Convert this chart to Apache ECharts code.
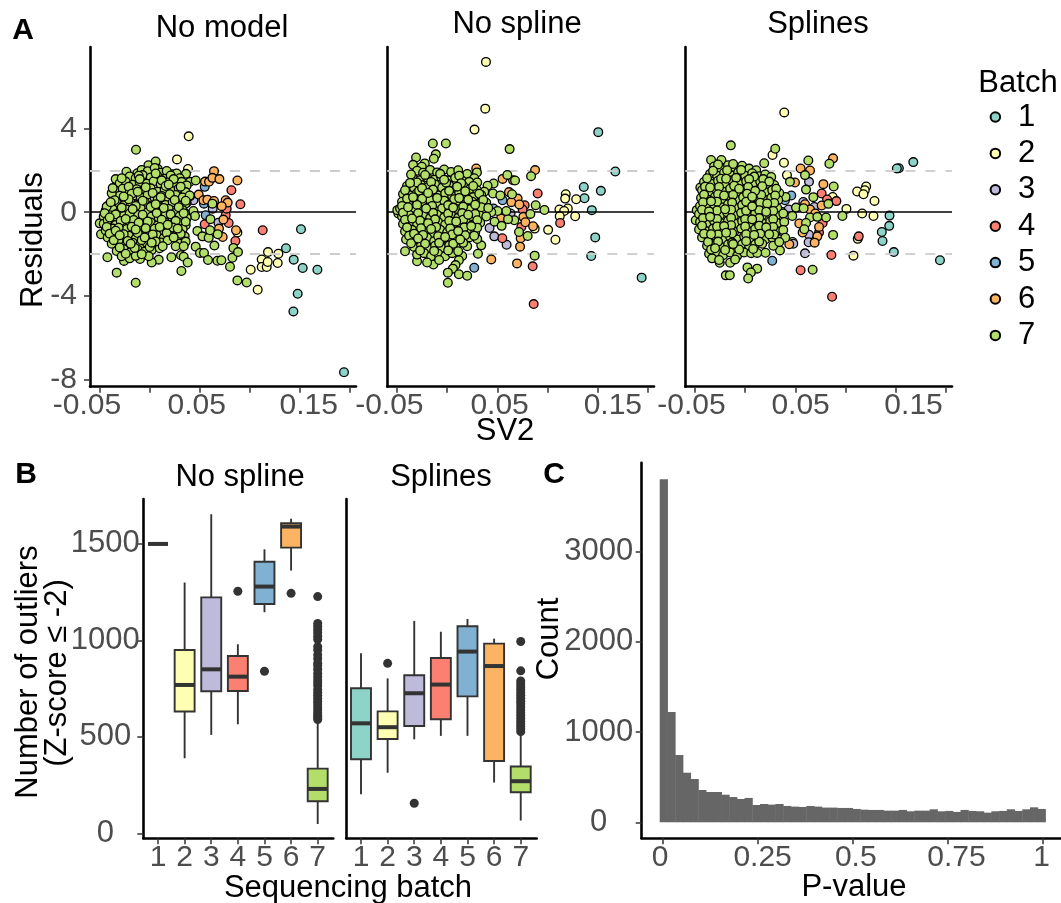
<!DOCTYPE html>
<html>
<head>
<meta charset="utf-8">
<style>html,body{margin:0;padding:0;background:#fff}#main{width:1061px;height:903px}</style>
<script src="https://cdn.jsdelivr.net/npm/echarts@6/dist/echarts.min.js"></script>
</head>
<body>
<div id="main"></div>
<script>
var batchNames = ['1', '2', '3', '4', '5', '6', '7'];
var batchColors = ['#8DD3C7', '#FFFFB3', '#BEBADA', '#FB8072', '#80B1D3', '#FDB462', '#B3DE69'];

// panel A, no model: [SV2, residual]
var noModelB1 = [[.1943,-7.63],[.1437,-4.73],[.148,-3.89],[.153,-2.66],[.1677,-2.74],[.144,-2.26],[.1363,-1.72],[.1513,-.81]];
var noModelB2 = [[.039,3.62],[.0273,2.52],[.0383,2.06],[.101,-2.74],[.108,-3.7],[.112,-2.25],[.112,-2.61],[.117,-2.61],[.1183,-1.9],[.118,-2.37],[.1287,-1.98],[.128,-2.42],[.0877,-.97]];
var noModelB3 = [[.0437,.57],[.063,.17],[.0687,-.5],[.0627,.5]];
var noModelB4 = [[.113,-.86],[.0907,.38],[.0817,1.05],[.0857,-1.37],[.055,-.57],[.079,-.51],[.076,-.14],[.077,.17]];
var noModelB5 = [[.023,1.81],[.055,1.21],[.0543,.41],[.0357,-.06],[.056,-.14],[.0357,.73],[.027,-.41]];
var noModelB6 = [[.0643,1.96],[.0553,1.46],[.0593,1.45],[.0627,1.64],[.0697,1.58],[.0877,1.51],[.0403,.76],[.049,.84],[.0537,.57],[.0577,.6],[.0643,.54],[.076,.57],[.078,.46],[.072,.29],[.0737,-.35],[.0693,-.78],[.073,-1.18],[.0863,-.86]];
var noModelB7 = [[-.0137,2.98],[-.034,1.58],[-.0233,1.93],[-.0123,1.86],[-.0013,2.24],[.006,2.42],[.008,2.07],[.027,1.85],[.0363,1.83],[.0403,1.45],[.046,1.51],[.0627,.41],[.037,.45],[.0437,.06],[.0453,-.18],[.0477,-.89],[.0527,-1.15],[.059,-1.22],[.0607,-.33],[.0603,-.86],[.068,-1.05],[.0647,-1.59],[.046,-1.64],[.0503,-1.94],[.0543,-1.94],[.0583,-2.28],[.0677,-2.31],[.0717,-2.29],[.0827,-2.17],[.0837,-1.7],[.0883,-1.9],[.0803,-2.6],[.0877,-3.25],[.097,-3.35],[.0217,-2.15],[.0313,-2.05],[.034,-2.12],[.038,-2.4],[.0317,-2.8],[.009,-2.26],[.002,-2.4],[-.0097,-2.23],[-.014,-3.36],[-.033,-2.88],[-.0423,-2.15],[-.0257,-2.32],[-.05,-.53],[-.0487,-1.05],
[-.008,2.02],[-.002,1.96],[.005,2.11],[.011,1.88],[.017,1.97],
[-.02,1.71],[-.014,1.62],[-.007,1.77],[.001,1.66],[.008,1.72],[.015,1.6],[.021,1.75],[.03,1.62],
[-.03,1.38],[-.024,1.46],[-.017,1.31],[-.01,1.44],[-.003,1.36],[.004,1.48],[.011,1.33],[.018,1.42],[.025,1.3],[.032,1.45],[.037,1.28],
[-.033,1.02],[-.027,1.12],[-.02,.97],[-.013,1.1],[-.006,1.0],[.001,1.14],[.008,.98],[.015,1.09],[.022,1.01],[.029,1.13],[.036,.96],
[-.036,.7],[-.03,.79],[-.023,.66],[-.016,.8],[-.009,.71],[-.002,.84],[.005,.68],[.012,.78],[.019,.64],[.026,.82],[.033,.7],[.04,.8],
[-.04,.38],[-.033,.47],[-.026,.33],[-.019,.45],[-.012,.36],[-.005,.5],[.002,.32],[.009,.44],[.016,.35],[.023,.48],[.03,.31],[.036,.42],
[-.044,.08],[-.037,.15],[-.03,.02],[-.023,.13],[-.016,.05],[-.009,.18],[-.002,.0],[.005,.12],[.012,.03],[.019,.16],[.026,-.02],[.033,.1],
[-.046,-.2],[-.04,-.14],[-.033,-.3],[-.026,-.18],[-.019,-.29],[-.012,-.13],[-.005,-.32],[.002,-.2],[.009,-.28],[.016,-.14],[.023,-.31],[.03,-.19],[.037,-.27],
[-.046,-.55],[-.04,-.47],[-.034,-.61],[-.027,-.5],[-.02,-.62],[-.013,-.46],[-.006,-.6],[.001,-.49],[.008,-.63],[.015,-.47],[.022,-.58],[.029,-.5],[.036,-.62],
[-.044,-.87],[-.037,-.78],[-.03,-.92],[-.023,-.8],[-.016,-.95],[-.009,-.82],[-.002,-.9],[.005,-.79],[.012,-.94],[.019,-.84],[.026,-.96],[.033,-.8],
[-.042,-1.2],[-.035,-1.1],[-.028,-1.25],[-.021,-1.12],[-.014,-1.26],[-.007,-1.14],[0,-1.27],[.007,-1.1],[.014,-1.24],[.021,-1.13],[.028,-1.28],[.035,-1.15],
[-.038,-1.5],[-.031,-1.42],[-.024,-1.58],[-.017,-1.45],[-.01,-1.59],[-.003,-1.46],[.004,-1.56],[.011,-1.44],[.03,-1.5],[.036,-1.4],
[-.033,-1.85],[-.026,-1.76],[-.019,-1.9],[-.012,-1.78],[-.005,-1.88],[.002,-1.8],[.01,-1.72],
[-.028,-2.1],[-.02,-2.2],[-.014,-2.08],[-.001,-2.1]];
var noModelB7More = [[-.028,1.62],[-.011,1.74],[.012,1.52],[.024,1.58],[-.021,1.22],[-.004,1.19],[.016,1.25],[.031,1.22],[-.038,.91],[-.018,.88],[.003,.92],[.02,.86],[-.035,.57],[-.021,.62],[-.007,.55],[.008,.6],[.025,.58],[-.043,.27],[-.028,.22],[-.014,.3],[.001,.25],[.014,.2],[.029,.24],[-.045,-.05],[-.034,-.1],[-.02,-.06],[-.007,-.12],[.007,-.04],[.021,-.1],[-.042,-.38],[-.029,-.42],[-.016,-.37],[-.002,-.44],[.012,-.36],[.026,-.41],[-.043,-.7],[-.031,-.74],[-.018,-.69],[-.004,-.76],[.01,-.7],[.023,-.73],[-.04,-1.02],[-.026,-1.05],[-.012,-.99],[.003,-1.06],[.017,-1.0],[.031,-1.03],[-.036,-1.33],[-.022,-1.37],[-.008,-1.33],[.006,-1.39],[.018,-1.34],[-.03,-1.68],[-.015,-1.7],[0,-1.66],[.013,-1.62],[-.024,-1.98],[-.008,-2.0],[.026,-1.62],[.034,-1.62],
[-.037,1.15],[-.01,1.58],[.006,1.85],[.019,1.32],[-.026,.75],[-.012,.98],[.011,.72],[.036,.55],[-.039,.48],[-.017,.15],[.006,.38],[.034,-.05],[-.04,-.25],[-.024,-.32],[-.011,-.5],[.018,-.6],[.036,-.45],[-.034,-.88],[-.014,-.82],[.028,-.78],[-.03,-1.1],[-.005,-1.2],[.024,-1.2],[-.019,-1.5],[.002,-1.45]];

// panel A, no spline
var noSplineB1 = [[.1507,3.82],[.1677,1.94],[.1363,1.2],[.1533,1.02],[.137,.67],[.1443,.1],[.1477,-1.2],[.1437,-2.09],[.194,-3.12]];
var noSplineB2 = [[.0387,7.17],[.038,4.94],[.0273,3.94],[.1183,.86],[.1177,.65],[.1287,.62],[.1203,.18],[.112,.13],[.1167,.06],[.1123,-.19],[.1277,-.19],[.1007,-.84],[.108,-1.31],[.0873,-.78]];
var noSplineB3 = [[.047,-1.15],[.0593,-1.55],[.0423,-.75],[.0633,-.06]];
var noSplineB4 = [[.0903,.89],[.0773,.33],[.0753,.13],[.1127,-.51],[.055,-1.24],[.0853,-2.58],[.0863,-4.38],[.074,-.7]];
var noSplineB5 = [[.027,-2.65],[.0553,.57],[.0463,.18]];
var noSplineB6 = [[.029,2.09],[.0877,2.01],[.0553,1.59],[.0657,1.53],[.0617,.96],[.0703,.65],[.064,.48],[.072,.37],[.0537,-.3],[.076,-.22],[.078,-.48],[.0857,-.67],[.0733,-1.24],[.0727,-1.64],[.044,-2.25],[.0697,-2.44]];
var noSplineB7 = [[-.0143,3.28],[-.0013,3.28],[-.0113,2.76],[-.0133,2.55],[-.031,2.61],[-.0223,2.33],[-.034,2.26],[-.0253,2.17],[.0623,3.01],[.06,1.78],[.0677,1.51],[.0837,1.72],[.0297,1.9],[.0463,1.37],[.0403,1.26],[.0457,.89],[.053,.8],[.0647,.86],[.0883,.33],[.097,.11],[.083,-.08],[.067,-.38],[.0607,-.33],[.059,.06],[.0503,.06],[.0473,-.45],[.0543,-.65],[.0717,-.94],[.0803,-1.13],[.0873,-2.07],[-.042,-1.86],[.015,-2.09],[.0117,-2.29],[.0083,-2.52],[.0057,-2.69],[.0007,-2.88],[.0117,-2.96],[.02,-3.03],[.0007,-3.36],[-.0137,-2.49],[-.03,-2.34],[.0307,-1.98],[.034,-1.58],[-.0487,-.06],[-.0497,.1],
[-.03,1.98],[-.024,1.88],[-.017,2.02],[-.01,1.9],[-.003,2.04],[.004,1.92],[.011,2.0],[.02,1.82],[.027,1.62],
[-.034,1.62],[-.027,1.53],[-.02,1.66],[-.013,1.55],[-.006,1.68],[.001,1.52],[.008,1.64],[.015,1.5],[.022,1.45],[.03,1.42],
[-.04,1.25],[-.033,1.16],[-.026,1.3],[-.019,1.2],[-.012,1.32],[-.005,1.17],[.002,1.28],[.009,1.14],[.016,1.25],[.023,1.12],[.03,1.05],[.037,.98],
[-.044,.87],[-.037,.8],[-.03,.92],[-.023,.82],[-.016,.96],[-.009,.8],[-.002,.9],[.005,.78],[.012,.93],[.019,.8],[.026,.72],[.034,.82],
[-.045,.5],[-.038,.42],[-.031,.56],[-.024,.45],[-.017,.58],[-.01,.43],[-.003,.55],[.004,.41],[.011,.52],[.018,.4],[.025,.5],[.032,.4],[.039,.45],
[-.047,.18],[-.04,.08],[-.033,.2],[-.026,.1],[-.019,.22],[-.012,.07],[-.005,.18],[.002,.05],[.009,.16],[.016,.04],[.023,.15],[.03,.03],[.037,.08],[.044,.0],
[-.045,-.2],[-.038,-.12],[-.031,-.26],[-.024,-.14],[-.017,-.28],[-.01,-.12],[-.003,-.25],[.004,-.14],[.011,-.27],[.018,-.15],[.025,-.24],[.032,-.12],[.039,-.2],
[-.044,-.56],[-.037,-.48],[-.03,-.62],[-.023,-.5],[-.016,-.64],[-.009,-.47],[-.002,-.6],[.005,-.5],[.012,-.63],[.019,-.48],[.026,-.58],[.033,-.5],
[-.042,-.92],[-.035,-.84],[-.028,-.98],[-.021,-.86],[-.014,-1.0],[-.007,-.83],[0,-.96],[.007,-.85],[.014,-.98],[.021,-.88],[.028,-.95],
[-.041,-1.3],[-.034,-1.2],[-.027,-1.36],[-.02,-1.22],[-.013,-1.38],[-.006,-1.2],[.001,-1.34],[.008,-1.22],[.015,-1.32],[.022,-1.2],[.03,-1.28],
[-.033,-1.66],[-.026,-1.58],[-.019,-1.72],[-.012,-1.6],[-.005,-1.7],[.002,-1.58],[.009,-1.68],[.02,-1.62],
[-.03,-2.02],[-.023,-1.95],[-.016,-2.1],[-.009,-1.98],[-.002,-2.1],[.005,-1.95],
[-.02,-2.4],[-.008,-2.28]];
var noSplineB7More = [[-.036,1.8],[-.022,1.78],[-.007,1.83],[.012,1.74],[-.03,1.42],[-.016,1.44],[-.001,1.41],[.014,1.38],[.026,1.25],[-.042,1.05],[-.028,1.02],[-.014,1.08],[.002,1.02],[.018,1.0],[.032,.88],[-.04,.65],[-.025,.64],[-.01,.68],[.007,.62],[.021,.6],[.036,.58],[-.045,.3],[-.03,.35],[-.015,.3],[.001,.34],[.016,.27],[.034,.24],[-.044,-.02],[-.029,-.05],[-.014,-.03],[.001,-.07],[.015,-.04],[.028,-.08],[.041,.2],[-.042,-.36],[-.027,-.4],[-.012,-.34],[.002,-.41],[.016,-.36],[.03,-.38],[-.04,-.72],[-.026,-.76],[-.011,-.7],[.003,-.77],[.017,-.72],[.03,-.74],[-.038,-1.12],[-.024,-1.08],[-.009,-1.14],[.005,-1.06],[.018,-1.1],[.027,-1.12],[-.036,-1.48],[-.022,-1.5],[-.008,-1.46],[.006,-1.5],[.016,-1.46],[-.027,-1.82],[-.013,-1.85],[.001,-1.82],[.011,-1.86],
[-.037,1.4],[-.025,1.15],[-.003,1.55],[.01,1.22],[-.034,.72],[-.019,.92],[.012,.68],[.028,.36],[-.039,.24],[-.021,.18],[.006,.22],[.021,-.12],[-.035,-.3],[-.019,-.52],[.009,-.44],[.024,-.66],[-.033,-1.02],[-.016,-.8],[.011,-.9],[-.029,-1.25],[-.002,-1.18],[.013,-1.3]];

// panel A, splines
var splinesAB1 = [[.1677,2.39],[.1533,2.1],[.1513,2.09],[.144,-.16],[.1437,-.65],[.1363,-.94],[.137,-1.37],[.1483,-1.9],[.1943,-2.29]];
var splinesAB2 = [[.039,4.76],[.0273,2.73],[.0387,2.36],[.0417,1.77],[.1207,1.23],[.1193,1.05],[.1117,.99],[.118,.86],[.129,.54],[.101,.16],[.1167,-.06],[.128,-.18],[.108,-2.07],[.1123,-1.27],[.0873,.73],[.0473,-1.42]];
var splinesAB3 = [[.0637,1.45],[.069,.25],[.058,.49],[.0433,.13],[.0637,-1.07],[.0633,-1.43],[.0597,-1.96],[.048,-1.5]];
var splinesAB4 = [[.0763,.89],[.0817,.61],[.091,.53],[.0773,-.51],[.0737,-.97],[.1133,-1.15],[.086,-2.04],[.0553,-2.77],[.0867,-4.03]];
var splinesAB5 = [[.046,.8],[.0397,.57],[.027,-2.31]];
var splinesAB6 = [[.0877,2.57],[.0553,2.09],[.0647,1.99],[.0497,1.42],[.078,1.34],[.0597,.38],[.0647,.13],[.0763,.32],[.07,-.06],[.054,-.54],[.0737,-.7],[.0573,-.97],[.072,-1.15],[.0693,-1.45],[.044,-1.53]];
var splinesAB7 = [[-.0143,3.19],[.03,3.03],[-.034,2.49],[-.0237,2.49],[.019,2.34],[.063,2.47],[.084,2.31],[.0597,1.77],[.0447,1.45],[.0883,1.23],[.0607,1.08],[.068,.72],[.0403,.73],[.083,.4],[.0507,.22],[.0583,.19],[.047,-.18],[.0647,-.25],[.072,-.22],[.0807,-.25],[.097,-.18],[.0607,-.51],[.059,-.81],[.0877,-1.08],[.0363,.02],[-.0483,.1],[-.0493,-.38],[-.0447,1.18],[.0023,-2.63],[.012,-2.69],[.0057,-2.87],[.003,-3.16],[-.0193,-3.01],[-.0153,-3],[-.015,-2.41],[-.0253,-2.41],[.0673,-2.74],[.0203,-1.93],[.0347,-1.82],
[-.031,2.18],[-.024,2.1],[-.017,2.24],[-.01,2.12],[-.003,2.22],[.004,2.08],[.011,2.0],
[-.035,1.82],[-.028,1.74],[-.021,1.88],[-.014,1.76],[-.007,1.9],[0,1.74],[.007,1.86],[.014,1.72],[.02,1.8],[.026,1.68],
[-.041,1.44],[-.034,1.36],[-.027,1.5],[-.02,1.38],[-.013,1.52],[-.006,1.36],[.001,1.48],[.008,1.34],[.015,1.46],[.022,1.36],[.029,1.3],
[-.043,1.05],[-.036,.96],[-.029,1.1],[-.022,.98],[-.015,1.12],[-.008,.96],[-.001,1.08],[.006,.94],[.013,1.06],[.02,.95],[.027,1.05],[.034,.92],
[-.044,.68],[-.037,.6],[-.03,.74],[-.023,.62],[-.016,.76],[-.009,.6],[-.002,.72],[.005,.58],[.012,.7],[.019,.6],[.026,.68],[.033,.58],
[-.045,.3],[-.038,.22],[-.031,.36],[-.024,.24],[-.017,.38],[-.01,.22],[-.003,.34],[.004,.2],[.011,.32],[.018,.22],[.025,.3],[.032,.2],
[-.046,-.08],[-.039,-.14],[-.032,-.02],[-.025,-.12],[-.018,.0],[-.011,-.15],[-.004,-.03],[.003,-.16],[.01,-.05],[.017,-.14],[.024,-.04],[.031,-.15],[.038,-.06],
[-.045,-.46],[-.038,-.54],[-.031,-.42],[-.024,-.52],[-.017,-.4],[-.01,-.55],[-.003,-.43],[.004,-.53],[.011,-.42],[.018,-.55],[.025,-.44],[.032,-.52],[.039,-.46],
[-.046,-.82],[-.039,-.9],[-.032,-.78],[-.025,-.92],[-.018,-.8],[-.011,-.93],[-.004,-.78],[.003,-.9],[.01,-.8],[.017,-.92],[.024,-.82],[.031,-.9],[.038,-.85],
[-.043,-1.2],[-.036,-1.28],[-.029,-1.15],[-.022,-1.3],[-.015,-1.17],[-.008,-1.3],[-.001,-1.15],[.006,-1.28],[.013,-1.18],[.02,-1.3],[.027,-1.2],[.034,-1.28],[.04,-1.22],
[-.038,-1.6],[-.031,-1.52],[-.024,-1.66],[-.017,-1.54],[-.01,-1.68],[-.003,-1.52],[.004,-1.64],[.01,-1.54],[.017,-1.5],[.028,-1.6],
[-.036,-1.98],[-.029,-1.9],[-.022,-2.05],[-.015,-1.92],[-.008,-2.08],[-.001,-1.92],[.006,-1.95],[.012,-1.94],
[-.033,-2.2],[-.026,-2.28],[-.01,-2.25]];
var splinesAB7More = [[-.027,2.28],[-.012,2.3],[-.032,1.98],[-.018,2.0],[-.004,2.02],[.009,1.7],[.018,1.58],[-.038,1.62],[-.024,1.6],[-.009,1.64],[.004,1.58],[.024,1.46],[-.04,1.22],[-.026,1.2],[-.011,1.26],[.003,1.2],[.017,1.24],[.031,1.12],[-.041,.84],[-.027,.86],[-.012,.82],[.002,.88],[.016,.82],[.03,.8],[-.042,.48],[-.028,.5],[-.013,.46],[.001,.5],[.015,.45],[.029,.44],[-.043,.12],[-.028,.08],[-.014,.12],[.001,.07],[.014,.1],[.028,.06],[-.042,-.28],[-.028,-.32],[-.014,-.27],[0,-.33],[.014,-.28],[.028,-.33],[-.043,-.64],[-.028,-.68],[-.014,-.62],[0,-.68],[.014,-.64],[.028,-.7],[-.041,-1.02],[-.027,-1.06],[-.013,-1.0],[.001,-1.05],[.015,-1.02],[.029,-1.06],[-.037,-1.42],[-.027,-1.4],[-.013,-1.44],[.001,-1.38],[.014,-1.4],[.034,-1.42],[-.034,-1.78],[-.02,-1.8],[-.006,-1.78],[.008,-1.75],
[-.035,1.18],[-.019,1.6],[-.006,1.12],[.01,1.02],[-.034,.52],[-.021,.8],[.007,.74],[.022,.42],[-.036,.04],[-.02,.14],[.007,.28],[.021,.02],[-.035,-.22],[-.021,-.66],[.007,-.34],[.021,-.72],[-.034,-1.05],[-.019,-.98],[.009,-1.08],[.024,-1.05],[-.03,-1.72],[-.012,-1.52]];

var noModelPoints = [noModelB1, noModelB2, noModelB3, noModelB4, noModelB5, noModelB6, noModelB7.concat(noModelB7More)];
var noSplinePoints = [noSplineB1, noSplineB2, noSplineB3, noSplineB4, noSplineB5, noSplineB6, noSplineB7.concat(noSplineB7More)];
var splinesPoints = [splinesAB1, splinesAB2, splinesAB3, splinesAB4, splinesAB5, splinesAB6, splinesAB7.concat(splinesAB7More)];

// panel B: [batch, lower whisker, q1, median, q3, upper whisker]
var noSplineBoxes = [
  [1, 1500, 1500, 1500, 1500, 1500],
  [2, 389, 631, 769, 950, 1300],
  [3, 510, 736, 850, 1223, 1654],
  [4, 565, 738, 812, 919, 980],
  [5, 1146, 1189, 1279, 1408, 1472],
  [6, 1362, 1481, 1590, 1607, 1631],
  [7, 48, 166, 230, 335, 587]
];
var splinesBoxes = [
  [1, 202, 384, 570, 752, 933],
  [2, 314, 489, 550, 632, 803],
  [3, 487, 556, 726, 819, 1101],
  [4, 505, 591, 771, 909, 1045],
  [5, 505, 710, 942, 1073, 1111],
  [6, 263, 375, 867, 983, 1009],
  [7, 66, 213, 270, 346, 518]
];
var noSplineOutliers = [[4,1255],[5,840],[6,1244],[7,590],[7,600],[7,612],[7,625],[7,640],[7,655],[7,670],[7,685],[7,700],[7,715],[7,730],[7,745],[7,765],[7,780],[7,795],[7,812],[7,830],[7,850],[7,868],[7,882],[7,905],[7,925],[7,950],[7,968],[7,1005],[7,1022],[7,1040],[7,1055],[7,1072],[7,1088],[7,1227]];
var splinesOutliers = [[2,881],[3,156],[7,527],[7,540],[7,553],[7,566],[7,580],[7,595],[7,610],[7,625],[7,640],[7,655],[7,670],[7,685],[7,700],[7,715],[7,730],[7,745],[7,760],[7,775],[7,790],[7,842],[7,994]];

// panel C: histogram
var binCenters = [.003,.0233,.0437,.064,.0843,.1046,.1249,.1453,.1656,.1859,.2062,.2265,.2469,.2672,.2875,.3078,.3281,.3485,.3688,.3891,.4094,.4297,.4501,.4704,.4907,.511,.5313,.5517,.572,.5923,.6126,.6329,.6533,.6736,.6939,.7142,.7345,.7549,.7752,.7955,.8158,.8361,.8565,.8768,.8971,.9174,.9377,.9581,.9784,.9987];
var binCounts = [3805,1223,746,550,480,358,336,336,306,280,258,270,192,203,196,203,181,174,170,181,174,163,163,159,159,148,140,137,137,129,129,137,122,129,129,144,122,126,115,137,126,122,107,122,126,144,126,144,166,148];

var tickX = [-0.05, 0, 0.05, 0.1, 0.15, 0.2];
var labelX = [-0.05, 0.05, 0.15];
var tickResidual = [-8, -4, 0, 4];
var tickOutliers = [0, 500, 1000, 1500];
var tickBatch = [1, 2, 3, 4, 5, 6, 7];
var tickCount = [0, 1000, 2000, 3000];
var tickP = [0, 0.25, 0.5, 0.75, 1];

var fontName = 'Liberation Sans';

// the labels of the reference sit a few pixels off their ticks
function shiftedLabels(values, shifts, axisLabel) {
  var rich = {};
  for (var i = 0; i < values.length; i++) {
    var s = shifts[i];
    rich['v' + i] = {
      fontFamily: fontName, fontSize: axisLabel.fontSize, color: axisLabel.color,
      padding: s >= 0 ? [0, 0, 0, 2 * s] : [0, -2 * s, 0, 0]
    };
  }
  axisLabel.rich = rich;
  axisLabel.formatter = function (v) {
    return '{v' + values.indexOf(v) + '|' + v + '}';
  };
}

function baseAxis(extra) {
  var ax = {
    type: 'value',
    splitLine: {show: false},
    axisLine: {show: true, onZero: false, lineStyle: {color: '#000', width: 2.6}},
    axisTick: {show: true, length: 6, lineStyle: {color: '#333', width: 1.5}},
    axisLabel: {show: true, fontFamily: fontName, fontSize: 30, color: '#4d4d4d', margin: 4, hideOverlap: false, formatter: function (v) { return String(v); }}
  };
  for (var k in extra) ax[k] = extra[k];
  return ax;
}
function xAx(grid, min, max, ticks, labels, shifts) {
  var ax = baseAxis({gridIndex: grid, min: min, max: max});
  ax.axisTick.customValues = ticks;
  ax.axisLabel.customValues = labels;
  if (shifts) shiftedLabels(labels, shifts, ax.axisLabel);
  return ax;
}
function yAx(grid, min, max, ticks, labelOpt) {
  var ax = baseAxis({gridIndex: grid, min: min, max: max});
  if (labelOpt) {
    ax.axisTick.customValues = ticks;
    ax.axisLabel.customValues = ticks;
    for (var k in labelOpt) ax.axisLabel[k] = labelOpt[k];
  } else {
    ax.axisTick.show = false;
    ax.axisLabel.show = false;
  }
  return ax;
}

var grids = [
  {left: 90, top: 47, width: 266, height: 339.7},
  {left: 387.3, top: 47, width: 266.7, height: 339.7},
  {left: 685.3, top: 47, width: 266.7, height: 339.7},
  {left: 143.3, top: 499, width: 190, height: 339.3},
  {left: 346.3, top: 499, width: 190.4, height: 339.3},
  {left: 641.7, top: 462.7, width: 419.3, height: 375.6}
];
var xAxes = [
  xAx(0, -0.0597, 0.2063, tickX, labelX, [-12.7, -3, 9]),
  xAx(1, -0.0597, 0.2063, tickX, labelX, [-7.7, 2.3, 15.3]),
  xAx(2, -0.0597, 0.2063, tickX, labelX, [-3.6, 5.3, 18]),
  xAx(3, 0.447, 7.586, tickBatch, tickBatch),
  xAx(4, 0.448, 7.6, tickBatch, tickBatch),
  xAx(5, -0.0553, 1.0493, tickP, tickP, [-2.7, 5, 3.3, 9, -0.6])
];
xAxes[5].axisLabel.fontSize = 31;
var yAxes = [
  yAx(0, -8.32, 7.88, tickResidual, {margin: 13}),
  yAx(1, -8.32, 7.88, tickResidual, null),
  yAx(2, -8.32, 7.88, tickResidual, null),
  yAx(3, -26, 1733, tickOutliers, {align: 'center', margin: 38, fontSize: 31}),
  yAx(4, -26, 1733, tickOutliers, null),
  yAx(5, -177.6, 3988, tickCount, {align: 'center', margin: 43, fontSize: 31})
];

var series = [];

function addResidualPanel(grid, pointsByBatch) {
  series.push({
    type: 'line', name: 'ref', xAxisIndex: grid, yAxisIndex: grid, data: [], z: 1, silent: true,
    markLine: {
      silent: true, symbol: 'none', animation: false, label: {show: false},
      data: [
        {yAxis: 2, lineStyle: {color: '#cccccc', width: 1.8, type: [10, 10]}},
        {yAxis: -2, lineStyle: {color: '#cccccc', width: 1.8, type: [10, 10]}},
        {yAxis: 0, lineStyle: {color: '#000', width: 1.6, type: 'solid'}}
      ]
    }
  });
  for (var i = 0; i < batchNames.length; i++) {
    series.push({
      type: 'scatter', name: batchNames[i], xAxisIndex: grid, yAxisIndex: grid, z: 2 + i,
      symbol: 'circle', symbolSize: 8.7, data: pointsByBatch[i],
      itemStyle: {color: batchColors[i], borderColor: '#000', borderWidth: 1.3, opacity: 1}
    });
  }
}

function renderBox(params, api) {
  var x = api.value(0);
  var lo = api.coord([x, api.value(1)]);
  var q1 = api.coord([x, api.value(2)]);
  var med = api.value(3);
  var q3 = api.coord([x, api.value(4)]);
  var hi = api.coord([x, api.value(5)]);
  var a = api.coord([x - 0.375, med]);
  var b = api.coord([x + 0.375, med]);
  var lineStyle = {stroke: '#333', lineWidth: 1.9, fill: null};
  return {
    type: 'group',
    children: [
      {type: 'line', shape: {x1: lo[0], y1: lo[1], x2: q1[0], y2: q1[1]}, style: lineStyle},
      {type: 'line', shape: {x1: q3[0], y1: q3[1], x2: hi[0], y2: hi[1]}, style: lineStyle},
      {type: 'rect', shape: {x: a[0], y: q3[1], width: b[0] - a[0], height: q1[1] - q3[1]},
        style: {fill: batchColors[x - 1], stroke: '#333', lineWidth: 1.9}},
      {type: 'line', shape: {x1: a[0], y1: a[1], x2: b[0], y2: b[1]}, style: {stroke: '#333', lineWidth: 4}}
    ]
  };
}
function addBoxPanel(grid, boxes, outliers) {
  series.push({
    type: 'custom', name: 'box', xAxisIndex: grid, yAxisIndex: grid, data: boxes, z: 2,
    renderItem: renderBox, encode: {x: 0, y: [1, 2, 3, 4, 5]}, clip: false
  });
  series.push({
    type: 'scatter', name: 'outliers', xAxisIndex: grid, yAxisIndex: grid, data: outliers, z: 3,
    symbol: 'circle', symbolSize: 9, itemStyle: {color: '#333', opacity: 1}
  });
}

addResidualPanel(0, noModelPoints);
addResidualPanel(1, noSplinePoints);
addResidualPanel(2, splinesPoints);
addBoxPanel(3, noSplineBoxes, noSplineOutliers);
addBoxPanel(4, splinesBoxes, splinesOutliers);

var histData = [];
for (var i = 0; i < binCenters.length; i++) histData.push([binCenters[i], binCounts[i]]);
series.push({
  type: 'bar', name: 'Count', xAxisIndex: 5, yAxisIndex: 5, data: histData,
  barWidth: 8.2, itemStyle: {color: '#666666'}
});

function txt(s, x, y, opt) {
  opt = opt || {};
  return {
    type: 'text', x: x, y: y, rotation: opt.rot ? Math.PI / 2 : 0, silent: true,
    style: {
      text: s, fill: '#000', textAlign: 'center', textVerticalAlign: 'middle',
      fontFamily: fontName, fontSize: opt.size || 31, fontWeight: opt.bold ? 'bold' : 'normal'
    }
  };
}

var option = {
  animation: false,
  backgroundColor: '#fff',
  grid: grids,
  xAxis: xAxes,
  yAxis: yAxes,
  series: series,
  legend: {
    data: batchNames, orient: 'vertical', left: 989.6, top: 101.5, padding: 0,
    itemWidth: 35.4, itemHeight: 9.5, itemGap: 5.4, selectedMode: false, icon: 'circle',
    textStyle: {fontFamily: fontName, fontSize: 31, color: '#000'}
  },
  graphic: [
    txt('A', 23, 31, {size: 30, bold: true}),
    txt('B', 26, 475, {size: 30, bold: true}),
    txt('C', 554, 475, {size: 30, bold: true}),
    txt('No model', 222, 28),
    txt('No spline', 517, 24),
    txt('Splines', 818, 24),
    txt('Batch', 1018, 83),
    txt('Residuals', 33, 240, {rot: true}),
    txt('SV2', 505, 431),
    txt('No spline', 240, 477),
    txt('Splines', 441, 477),
    txt('Number of outliers', 28, 672, {rot: true}),
    txt('(Z-score \u2264 -2)', 57, 673, {rot: true}),
    txt('Sequencing batch', 348, 888),
    txt('Count', 549, 639, {rot: true}),
    txt('P-value', 854, 887)
  ]
};

var myChart = echarts.init(document.getElementById('main'), null, {renderer: 'canvas'});
myChart.setOption(option);
</script>
</body>
</html>
